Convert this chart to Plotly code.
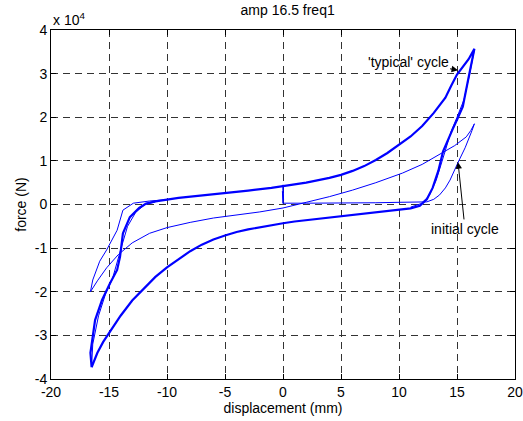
import plotly.graph_objects as go

# ---- data (force in units of 1e4 N, displacement in mm) ----
# 'typical' cycle: bottom tip -> lower branch -> right steep side -> top tip -> upper branch -> left steep side
typ_x = [-16.5, -16.0, -15.5, -15.0, -14.0, -13.0, -12.0, -11.0, -10.0, -9.0, -8.0, -7.0, -6.0, -5.0, -4.0, -3.0, -2.0, -1.0, 0.0,
         1.0, 3.0, 5.0, 7.0, 9.0, 11.0, 11.8, 12.4, 12.9, 13.4, 13.8, 14.2, 14.6, 15.0, 15.5, 15.9, 16.3, 16.5,
         16.0, 15.5, 15.0, 14.5, 14.0, 13.0, 12.0, 11.0, 10.0, 9.0, 8.0, 7.0, 6.0, 5.0, 4.0, 3.0, 2.0, 1.0, 0.0,
         -1.0, -3.0, -5.0, -7.0, -9.0, -11.0, -11.8, -12.4, -13.2, -13.8, -14.05, -14.3, -14.9, -15.6, -16.2, -16.6, -16.5]
typ_y = [-3.73, -3.40, -3.15, -2.95, -2.55, -2.20, -1.92, -1.66, -1.44, -1.25, -1.07, -0.92, -0.80, -0.71, -0.63, -0.57, -0.52, -0.47, -0.43,
         -0.39, -0.33, -0.27, -0.21, -0.15, -0.09, -0.03, 0.12, 0.38, 0.78, 1.22, 1.48, 1.71, 1.94, 2.24, 2.78, 3.31, 3.57,
         3.33, 3.15, 2.98, 2.72, 2.45, 2.10, 1.80, 1.56, 1.36, 1.18, 1.02, 0.88, 0.77, 0.68, 0.61, 0.55, 0.50, 0.46, 0.42,
         0.38, 0.32, 0.26, 0.20, 0.15, 0.07, 0.02, -0.08, -0.29, -0.66, -1.20, -1.50, -1.80, -2.19, -2.65, -3.40, -3.73]

# a second pass of the typical cycle over the steep ends (the loops do not fully overlap)
rep_x = [11.0, 11.9, 12.6, 13.2, 13.7, 14.1, 14.5, 15.0, 15.6, 16.1, 16.5]
rep_y = [-0.06, 0.02, 0.20, 0.55, 0.98, 1.35, 1.68, 2.00, 2.40, 3.00, 3.55]
repl_x = [-11.0, -11.9, -12.7, -13.4, -13.9, -14.3, -14.7, -15.3, -15.9, -16.4, -16.5]
repl_y = [0.06, 0.00, -0.18, -0.50, -0.95, -1.35, -1.70, -2.05, -2.55, -3.20, -3.70]

# initial cycle: start at 0, loading to the right, back to the left tip, and up to join the typical cycle
ini_x = [0.0, 0.0, 0.05, -0.05, 0.0, 2.0, 4.0, 6.0, 8.0, 10.0, 11.0, 11.8, 12.4, 13.0, 13.5, 14.0, 14.4, 15.1, 15.7, 16.3, 16.5,
         16.2, 15.8, 14.8, 13.5, 12.0, 10.3, 8.0, 6.0, 4.0, 2.0, 0.0, -2.0, -4.0, -6.0, -8.0, -10.0, -11.5, -13.0,
         -14.2, -15.2, -16.0, -16.6,
         -16.4, -15.8, -15.2, -14.3, -13.8, -12.9, -11.5, -10.0]
ini_y = [0.02, 0.45, 0.10, 0.30, 0.03, 0.03, 0.03, 0.04, 0.04, 0.05, 0.05, 0.05, 0.06, 0.12, 0.22, 0.38, 0.56, 0.97, 1.30, 1.70, 1.85,
         1.70, 1.55, 1.35, 1.15, 0.92, 0.72, 0.50, 0.33, 0.18, 0.05, -0.08, -0.17, -0.24, -0.31, -0.41, -0.53, -0.66, -0.88,
         -1.15, -1.45, -1.75, -2.00,
         -1.73, -1.30, -1.04, -0.59, -0.13, 0.03, 0.08, 0.11]

x_ticks = [-20, -15, -10, -5, 0, 5, 10, 15, 20]
y_ticks = [-4, -3, -2, -1, 0, 1, 2, 3, 4]

FONT = "Arial, Liberation Sans, Helvetica, sans-serif"
FS = 14
BLUE = "#0000ff"

fig = go.Figure()
fig.add_trace(go.Scatter(x=ini_x, y=ini_y, mode="lines", line=dict(color=BLUE, width=1), showlegend=False))
fig.add_trace(go.Scatter(x=rep_x, y=rep_y, mode="lines", line=dict(color=BLUE, width=1), showlegend=False))
fig.add_trace(go.Scatter(x=repl_x, y=repl_y, mode="lines", line=dict(color=BLUE, width=1), showlegend=False))
fig.add_trace(go.Scatter(x=typ_x, y=typ_y, mode="lines", line=dict(color=BLUE, width=2.2), showlegend=False))

axis_common = dict(
    showline=True, linecolor="black", linewidth=1, mirror="ticks",
    ticks="inside", ticklen=5, tickcolor="black", automargin=False,
    showgrid=True, gridcolor="#333333", gridwidth=1, griddash="7px,5px",
    zeroline=False, tickfont=dict(family=FONT, size=FS, color="black"),
)

fig.update_xaxes(range=[-20, 20], tickvals=x_ticks, ticktext=[str(v) for v in x_ticks],
                 title=dict(text="displacement (mm)", font=dict(family=FONT, size=FS, color="black"), standoff=2),
                 **axis_common)
fig.update_yaxes(range=[-4, 4], tickvals=y_ticks, ticktext=[str(v) for v in y_ticks],
                 title=dict(text="force (N)", font=dict(family=FONT, size=FS, color="black"), standoff=4),
                 **axis_common)

annots = [
    dict(x=0, y=1, xref="paper", yref="paper", xanchor="left", yanchor="bottom", yshift=0,
         text="x 10<sup>4</sup>", showarrow=False, font=dict(family=FONT, size=FS, color="black")),
    dict(x=15.09, y=3.08, xref="x", yref="y", ax=10.78, ay=3.27, axref="x", ayref="y",
         text="'typical' cycle", font=dict(family=FONT, size=FS, color="black"),
         showarrow=True, arrowhead=2, arrowsize=1.3, arrowwidth=1, arrowcolor="black", standoff=0),
    dict(x=15.09, y=0.97, xref="x", yref="y", ax=15.69, ay=-0.56, axref="x", ayref="y",
         text="initial cycle", font=dict(family=FONT, size=FS, color="black"),
         showarrow=True, arrowhead=2, arrowsize=1.3, arrowwidth=1, arrowcolor="black", standoff=0),
]

fig.update_layout(
    width=523, height=421,
    margin=dict(l=51, r=8, t=30, b=42),
    paper_bgcolor="white", plot_bgcolor="white",
    title=dict(text="amp 16.5 freq1", xref="paper", x=0.51, xanchor="center", y=0.977, yanchor="middle",
               font=dict(family=FONT, size=FS, color="black")),
    annotations=annots,
    font=dict(family=FONT, size=FS, color="black"),
)

fig.write_html("out.html")
